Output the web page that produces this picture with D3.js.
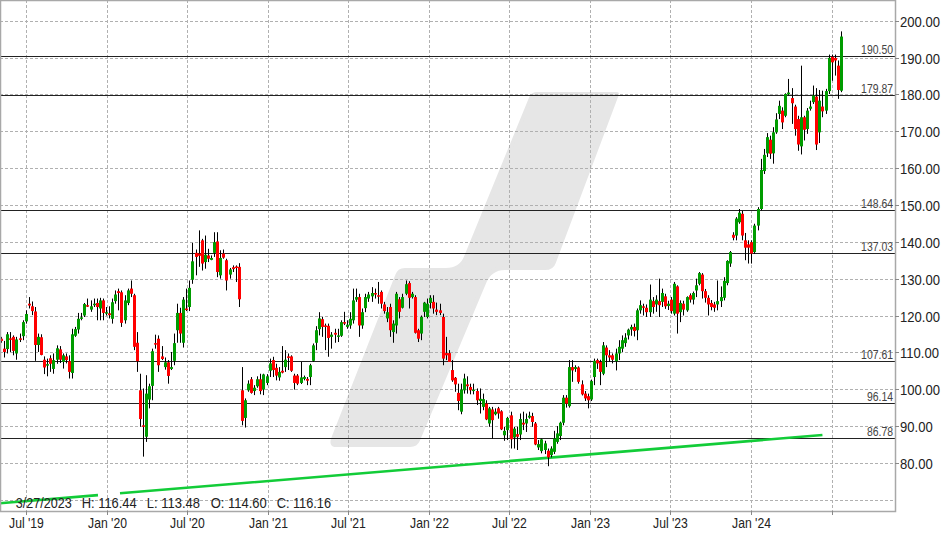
<!DOCTYPE html>
<html><head><meta charset="utf-8">
<script src="https://cdn.jsdelivr.net/npm/d3@7"></script>
<style>body{margin:0;background:#fff}svg{display:block}</style>
</head><body><svg id="c" width="948" height="539"></svg>
<script>
// ---------- DATA ----------
const firstWeek = [2019, 4, 6]; // Monday 6 May 2019, weekly candles
const open = [
113.7,111.0,110.9,113.8,114.2,109.7,113.8,114.4,118.4,123.2,
122.5,121.1,112.0,114.1,108.0,106.4,108.4,105.5,108.0,110.8,
107.4,108.9,107.6,104.4,114.5,116.2,119.2,120.0,122.8,121.6,
122.8,123.4,121.9,124.1,120.5,120.6,119.1,123.9,126.6,126.3,
118.7,123.4,127.3,125.5,112.6,99.7,90.2,87.1,97.2,100.9,
112.5,113.7,108.9,106.0,107.3,105.5,107.7,116.0,120.7,112.6,
121.9,122.3,129.7,137.0,136.8,140.4,134.5,136.3,135.1,137.0,
140.1,130.9,136.8,135.0,131.1,133.1,133.3,133.2,99.7,92.2,
99.7,102.7,99.5,100.8,102.7,99.9,101.7,105.0,107.9,105.8,
103.2,105.0,106.0,108.9,108.9,103.7,103.7,101.7,102.8,102.8,
103.3,107.7,112.6,116.3,119.0,117.3,117.2,114.2,115.3,114.2,
114.5,118.2,116.9,117.3,118.7,124.3,125.0,117.3,122.0,124.6,
125.2,126.1,125.5,126.4,123.0,119.2,122.3,115.5,117.3,124.4,
122.1,125.9,128.8,125.0,125.0,116.0,115.1,121.0,119.6,123.4,
123.7,121.6,121.4,119.6,109.8,109.8,105.2,103.1,99.0,93.9,
99.7,101.3,100.6,99.5,99.5,96.8,95.2,96.1,90.7,94.5,
93.2,94.8,94.0,87.5,88.9,92.9,86.9,87.8,87.7,90.9,
90.7,92.3,92.7,90.7,84.2,83.2,83.5,83.3,82.1,83.0,
85.7,87.3,90.9,97.7,95.4,106.0,105.5,105.9,101.3,98.8,
98.1,97.2,103.3,107.9,107.4,104.2,111.3,109.2,109.2,107.6,
109.7,111.0,112.5,114.6,116.2,116.9,116.0,121.4,122.5,122.1,
120.9,123.9,123.0,123.9,123.7,125.2,122.6,124.3,120.5,127.9,
120.9,123.2,121.4,125.5,124.3,126.8,128.6,131.1,126.6,124.8,
123.4,123.0,123.0,123.9,124.8,128.8,134.1,141.9,141.7,145.3,
147.6,140.4,139.3,139.9,137.2,144.4,148.9,159.2,164.0,167.7,
164.0,169.7,174.7,175.6,174.2,180.0,179.0,176.7,173.3,165.9,
173.8,170.6,176.1,177.9,179.4,169.7,176.7,175.6,180.9,190.2,
189.9,187.8,181.0];
const high = [
114.2,113.1,115.5,115.5,114.6,114.2,115.1,118.7,121.4,125.0,
123.8,122.3,115.1,114.9,108.9,108.3,109.2,109.7,111.9,111.7,
109.7,109.7,109.2,116.4,116.9,120.7,120.7,123.4,124.6,124.1,
124.6,124.6,124.8,124.6,122.3,122.5,124.6,126.8,127.3,126.8,
125.5,127.3,129.5,125.9,115.5,104.2,100.2,103.8,101.5,111.0,
114.8,114.6,111.7,108.6,107.9,110.1,115.1,123.2,122.1,125.0,
127.3,129.5,139.7,137.9,143.1,140.8,141.7,138.1,136.3,142.6,
142.6,137.7,137.9,135.4,132.9,133.6,133.6,134.2,106.0,97.5,
102.4,103.3,101.1,103.5,104.2,104.2,104.1,108.3,108.8,106.9,
106.0,111.7,110.6,109.7,109.2,104.2,104.1,107.4,103.7,103.3,
106.9,112.4,117.1,120.9,119.6,117.8,117.8,115.5,116.4,116.4,
118.7,121.0,118.7,120.9,127.3,127.3,125.9,121.9,125.9,126.4,
127.7,127.3,129.1,126.8,123.7,122.3,123.2,118.7,126.4,125.0,
125.9,129.5,129.3,126.4,125.5,116.4,120.0,123.7,124.6,125.5,
125.5,123.5,123.2,120.5,114.2,110.6,107.9,103.3,101.5,101.5,
104.2,103.5,101.5,101.5,100.2,100.2,98.8,97.0,95.2,95.2,
94.8,95.2,94.3,89.8,92.5,93.9,89.8,89.8,93.4,93.9,
93.4,93.9,93.6,91.1,86.2,86.6,86.0,83.9,84.5,88.7,
90.0,91.2,98.4,98.4,107.9,107.9,106.5,106.2,102.4,99.5,
98.8,102.6,108.3,108.3,108.0,112.8,111.9,110.6,109.7,111.0,
113.3,114.6,115.2,116.44,117.5,117.8,121.9,124.1,123.2,123.0,
128.4,125.0,125.5,130.0,127.3,125.9,124.0,125.0,129.1,128.2,
124.1,124.0,125.2,126.0,126.5,130.0,131.8,131.5,127.2,125.5,
124.2,123.7,129.5,127.9,130.4,135.0,137.5,142.6,146.7,148.9,
148.4,142.4,140.4,140.4,144.9,149.4,162.5,165.2,169.5,168.8,
171.1,174.9,178.3,176.5,180.3,184.2,181.7,177.2,174.2,187.8,
174.2,176.3,178.3,182.4,181.7,181.2,181.0,181.5,190.8,190.8,
190.8,189.2,197.1];
const low = [
112.6,108.6,109.7,110.1,109.2,108.0,112.8,113.3,117.8,121.9,
120.1,107.7,110.1,109.2,104.1,103.5,104.7,104.2,106.9,107.1,
105.6,107.0,102.9,102.9,114.2,115.1,118.7,119.6,122.3,121.0,
122.3,118.7,118.7,118.7,120.0,119.2,117.8,123.2,121.4,116.9,
117.8,122.8,125.0,110.6,104.7,89.8,81.7,85.7,94.8,97.0,
111.0,104.7,107.9,105.3,101.5,105.2,106.5,112.6,112.6,111.3,
121.2,121.2,128.6,130.9,133.2,132.2,132.7,134.5,135.0,135.9,
130.4,130.0,135.4,126.8,130.0,131.8,129.1,122.3,90.2,89.6,
99.3,98.8,98.4,100.4,98.6,98.4,101.1,103.3,103.3,102.4,
102.3,104.3,104.7,105.2,104.7,99.9,101.1,101.4,102.4,101.1,
101.1,107.4,110.6,114.6,114.2,110.6,108.8,111.0,112.6,112.8,
114.2,117.4,116.4,116.4,117.8,123.7,114.2,116.4,120.9,123.7,
123.7,124.6,123.2,121.9,120.5,118.2,114.2,112.6,115.1,119.2,
121.9,125.5,121.9,124.6,115.1,112.8,113.3,119.6,119.2,121.9,
120.5,120.1,120.1,106.5,107.9,107.4,102.0,99.3,94.3,93.2,
98.8,98.8,98.6,98.6,95.7,93.4,94.3,91.6,89.8,86.6,
92.9,92.0,88.9,86.0,86.2,83.9,83.9,83.5,86.2,88.9,
88.4,92.0,89.8,84.8,83.5,82.6,82.4,79.1,81.5,82.4,
85.2,86.2,90.2,95.0,95.0,102.0,104.7,101.5,98.3,96.8,
94.8,96.8,101.1,105.5,101.1,103.8,106.0,107.4,107.0,105.1,
107.9,110.1,111.5,113.48,114.5,114.3,113.3,120.5,120.0,119.6,
119.6,120.5,121.0,119.6,122.3,121.8,121.5,120.5,120.0,115.1,
118.2,120.0,121.0,123.5,123.0,125.0,128.2,124.6,123.5,120.0,
121.4,121.0,121.4,122.3,124.1,128.2,133.2,140.4,140.4,144.9,
140.4,135.0,134.1,134.1,136.7,143.1,148.5,158.4,163.0,162.5,
161.2,169.3,173.3,170.6,173.8,179.7,172.0,168.8,164.7,163.7,
167.5,169.3,175.6,177.4,164.9,166.8,173.8,174.7,180.1,183.7,
185.1,178.8,180.6];
const close = [
113.1,110.1,114.9,113.5,110.4,113.5,113.4,118.2,120.4,122.7,
121.2,112.0,114.2,109.3,105.9,106.8,106.9,107.9,111.1,108.0,
109.2,107.9,104.7,114.9,116.3,119.1,119.5,123.1,122.5,122.5,
123.2,122.3,124.1,120.7,120.9,120.1,123.6,125.7,126.1,118.0,
124.1,126.8,125.9,111.5,107.6,91.9,89.8,98.8,100.8,110.3,
112.1,106.5,108.2,107.3,103.6,106.0,112.5,120.7,115.1,124.3,
121.5,127.5,134.7,135.9,136.2,134.1,136.5,135.4,135.6,139.9,
131.8,135.6,135.7,129.5,132.5,132.6,132.9,124.4,91.4,97.0,
101.5,99.0,100.4,102.7,99.5,104.0,103.5,107.0,105.2,103.7,
104.7,104.5,108.0,108.6,105.0,101.7,101.5,103.2,103.3,102.3,
106.5,111.9,116.0,119.2,116.9,116.9,113.9,114.8,114.8,114.6,
118.2,117.8,117.5,119.1,124.1,125.0,117.3,120.9,125.0,125.7,
126.1,125.7,125.3,123.2,121.2,120.9,116.0,117.8,125.9,121.0,
125.0,128.5,124.8,125.9,115.3,113.7,119.6,123.5,123.2,124.8,
121.9,121.0,120.7,108.3,109.2,107.4,102.4,101.3,96.8,99.9,
102.9,100.8,99.7,99.9,97.0,97.4,97.3,91.8,94.8,91.6,
93.9,93.4,89.1,88.7,92.2,86.4,89.3,87.1,91.9,90.4,
91.9,92.8,91.1,85.0,85.1,86.4,85.3,81.5,83.9,86.6,
88.0,90.9,97.7,96.1,106.0,105.1,106.0,102.0,98.6,97.5,
97.0,102.2,107.7,107.0,104.7,111.9,109.2,108.6,108.0,109.7,
111.5,113.3,114.0,116.16,116.9,115.8,121.4,122.8,122.1,120.9,
124.3,122.3,124.3,122.8,126.1,122.5,123.2,121.2,128.6,120.5,
123.4,121.6,125.0,124.3,126.1,128.2,131.5,126.6,124.8,123.0,
122.3,122.1,123.9,125.0,129.4,134.8,137.2,141.1,146.3,147.9,
141.7,138.4,138.4,136.8,144.4,148.9,159.5,163.6,168.4,163.9,
169.7,173.2,176.9,172.4,180.1,180.5,177.6,170.6,166.4,173.8,
170.4,175.6,176.7,179.7,166.4,178.3,175.4,180.9,189.9,188.7,
189.2,181.2,195.7];

const levels = [190.50, 179.87, 148.64, 137.03, 107.61, 96.14, 86.78];
const gridValues = [70,80,90,100,110,120,130,140,150,160,170,180,190,200];
const yLabelValues = [80,90,100,110,120,130,140,150,160,170,180,190,200];
const xGridDates = ["2019-07-01","2020-01-01","2020-07-01","2021-01-01","2021-07-01","2022-01-01","2022-07-01","2023-01-01","2023-07-01","2024-01-01","2024-07-01"];
const xLabels = ["Jul '19","Jan '20","Jul '20","Jan '21","Jul '21","Jan '22","Jul '22","Jan '23","Jul '23","Jan '24",""];
const trendDates = ["2019-05-03","2024-06-10"];
const trendValues = [69.04, 87.57];
const infoDate = "3/27/2023";
const infoKeys = ["H","L","O","C"];
const infoVals = [116.44, 113.48, 114.60, 116.16];

// ---------- CHART ----------
const svg = d3.select("#c");
const plotR = 895, plotB = 511;
const parse = d3.timeParse("%Y-%m-%d");
const x = d3.scaleTime().domain([new Date(2019,6,1), new Date(2024,6,1)]).range([25.7, 831.7]);
const y = d3.scaleLinear().domain([80, 200]).range([462.9, 20.7]);
const FONT = "'Liberation Sans', Arial, sans-serif";

svg.append("defs").append("clipPath").attr("id","plot")
  .append("rect").attr("x",0).attr("y",0).attr("width",plotR).attr("height",plotB);

// watermark
svg.append("path")
  .attr("d","M537,94 L617,94 L554,262 Q552,268 545,268 L505,268 Q490,268 484,283 L418,440 Q416,445 410,445 L336,445 Q331,445 333,439 L397,276 Q399,270 405,270 L446,270 Q461,270 466,257 L531,98 Q533,94 537,94 Z")
  .attr("fill","#e6e6e6").attr("stroke","#e6e6e6").attr("stroke-width",4).attr("stroke-linejoin","round");

// grid
const grid = svg.append("g").attr("stroke","#b0b0b0").attr("stroke-dasharray","3,2").attr("stroke-width",1);
gridValues.forEach(v => {
  const yy = Math.round(y(v)) + 0.5;
  grid.append("line").attr("x1",0).attr("x2",plotR).attr("y1",yy).attr("y2",yy);
});
xGridDates.forEach(d => {
  const xx = Math.round(x(parse(d))) + 0.5;
  grid.append("line").attr("x1",xx).attr("x2",xx).attr("y1",0).attr("y2",plotB);
});

// horizontal levels
const lv = svg.append("g");
levels.forEach(v => {
  const yy = Math.round(y(v)) + 0.5;
  lv.append("line").attr("x1",0).attr("x2",plotR).attr("y1",yy).attr("y2",yy)
    .attr("stroke","#222").attr("stroke-width",1.2);
  lv.append("text").attr("transform",`translate(893,${yy-2.5}) scale(0.87,1)`)
    .attr("text-anchor","end").attr("font-family",FONT).attr("font-size",12)
    .attr("fill","#444").text(v.toFixed(2));
});

// trend line
const tx0 = x(parse(trendDates[0])), ty0 = y(trendValues[0]);
const tx1 = x(parse(trendDates[1])), ty1 = y(trendValues[1]);
const k = Math.hypot(tx1-tx0, ty1-ty0) / (tx1-tx0);
svg.append("line").attr("clip-path","url(#plot)")
  .attr("x1",tx0).attr("y1",ty0).attr("x2",tx1).attr("y2",ty1)
  .attr("stroke","#12cc38").attr("stroke-width",2.6)
  .attr("stroke-dasharray",`${(98-tx0)*k} ${22*k} 3000`);

// candles
const data = open.map((o,i)=>({
  date: new Date(firstWeek[0], firstWeek[1], firstWeek[2] + 7*i),
  o, h: high[i], l: low[i], c: close[i]
}));
const cg = svg.append("g").attr("clip-path","url(#plot)");
data.forEach(d => {
  const cx = Math.round(x(d.date));
  const hi = Math.max(d.h, d.o, d.c), lo = Math.min(d.l, d.o, d.c);
  cg.append("line").attr("x1",cx+0.5).attr("x2",cx+0.5)
    .attr("y1",y(hi)).attr("y2",y(lo)).attr("stroke","#000").attr("stroke-width",1);
  const top = y(Math.max(d.o,d.c)), bot = y(Math.min(d.o,d.c));
  cg.append("rect").attr("x",cx-1).attr("width",3)
    .attr("y",top).attr("height",Math.max(1.5, bot-top))
    .attr("fill", d.c >= d.o ? "#009c00" : "#ff0000");
});

// frame
svg.append("rect").attr("x",0.5).attr("y",0.5).attr("width",plotR).attr("height",plotB)
  .attr("fill","none").attr("stroke","#a8a8a8").attr("stroke-width",1.5);

// y axis labels + ticks
yLabelValues.forEach(v => {
  const yy = Math.round(y(v)) + 0.5;
  svg.append("line").attr("x1",plotR).attr("x2",plotR+4).attr("y1",yy).attr("y2",yy).attr("stroke","#888");
  svg.append("text").attr("transform",`translate(900,${yy+5.3}) scale(0.87,1)`)
    .attr("font-family",FONT).attr("font-size",15).attr("fill","#222").text(v.toFixed(2));
});

// x axis labels + ticks
xGridDates.forEach((d,i) => {
  const xx = Math.round(x(parse(d))) + 0.5;
  svg.append("line").attr("x1",xx).attr("x2",xx).attr("y1",plotB).attr("y2",plotB+4).attr("stroke","#888");
  if (xLabels[i]) svg.append("text").attr("transform",`translate(${xx},528) scale(0.87,1)`)
    .attr("text-anchor","middle").attr("font-family",FONT).attr("font-size",14)
    .attr("fill","#222").text(xLabels[i]);
});

// info text
const infoStr = [infoDate].concat(infoKeys.map((kk,i)=>`${kk}: ${infoVals[i].toFixed(2)}`));
const infoX = [15.7, 81.7, 146.7, 210.7, 276.7];
const infoW = [56, 55, 53.3, 56, 54.3];
infoStr.forEach((s,i) => {
  svg.append("text").attr("x",infoX[i]).attr("y",508)
    .attr("font-family",FONT).attr("font-size",14).attr("fill","#222")
    .attr("textLength",infoW[i]).attr("lengthAdjust","spacingAndGlyphs").text(s);
});
</script></body></html>
